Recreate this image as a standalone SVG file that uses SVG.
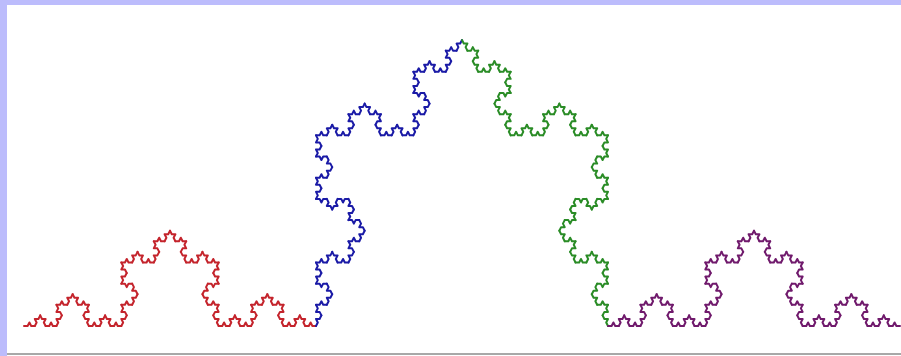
<svg xmlns="http://www.w3.org/2000/svg" xmlns:xlink="http://www.w3.org/1999/xlink" width="901" height="356" viewBox="0 0 901 356">
  <style>
    .seg { fill: none; stroke-width: 2; stroke-linejoin: round; stroke-linecap: round; }
  </style>
  <defs>
    <path id="k1" class="seg" vector-effect="non-scaling-stroke" d="M0 0 L0.333333 0 L0.5 -0.288675 L0.666667 0 L1 0"/>
    <g id="k2">
      <use href="#k1" transform="scale(0.333333)"/>
      <use href="#k1" transform="translate(0.333333,0) rotate(-60) scale(0.333333)"/>
      <use href="#k1" transform="translate(0.5,-0.288675) rotate(60) scale(0.333333)"/>
      <use href="#k1" transform="translate(0.666667,0) scale(0.333333)"/>
    </g>
    <g id="k3">
      <use href="#k2" transform="scale(0.333333)"/>
      <use href="#k2" transform="translate(0.333333,0) rotate(-60) scale(0.333333)"/>
      <use href="#k2" transform="translate(0.5,-0.288675) rotate(60) scale(0.333333)"/>
      <use href="#k2" transform="translate(0.666667,0) scale(0.333333)"/>
    </g>
    <g id="k4">
      <use href="#k3" transform="scale(0.333333)"/>
      <use href="#k3" transform="translate(0.333333,0) rotate(-60) scale(0.333333)"/>
      <use href="#k3" transform="translate(0.5,-0.288675) rotate(60) scale(0.333333)"/>
      <use href="#k3" transform="translate(0.666667,0) scale(0.333333)"/>
    </g>
  </defs>
  <rect x="0" y="0" width="901" height="356" fill="#ffffff"/>
  <rect x="0" y="0" width="901" height="5" fill="#bcbcfc"/>
  <rect x="0" y="0" width="7" height="356" fill="#bcbcfc"/>
  <rect x="7" y="353" width="894" height="2" fill="#a8a8a8"/>
  <g id="koch" transform="translate(24,326) scale(876,990.6)">
    <g id="red"><use href="#k4" stroke="#c4242c" transform="scale(0.333333)"/></g>
    <g id="blue"><use href="#k4" stroke="#1a1aa6" transform="translate(0.333333,0) rotate(-60) scale(0.333333)"/></g>
    <g id="green"><use href="#k4" stroke="#2a8c26" transform="translate(0.5,-0.288675) rotate(60) scale(0.333333)"/></g>
    <g id="purple"><use href="#k4" stroke="#701a6c" transform="translate(0.666667,0) scale(0.333333)"/></g>
  </g>
</svg>
